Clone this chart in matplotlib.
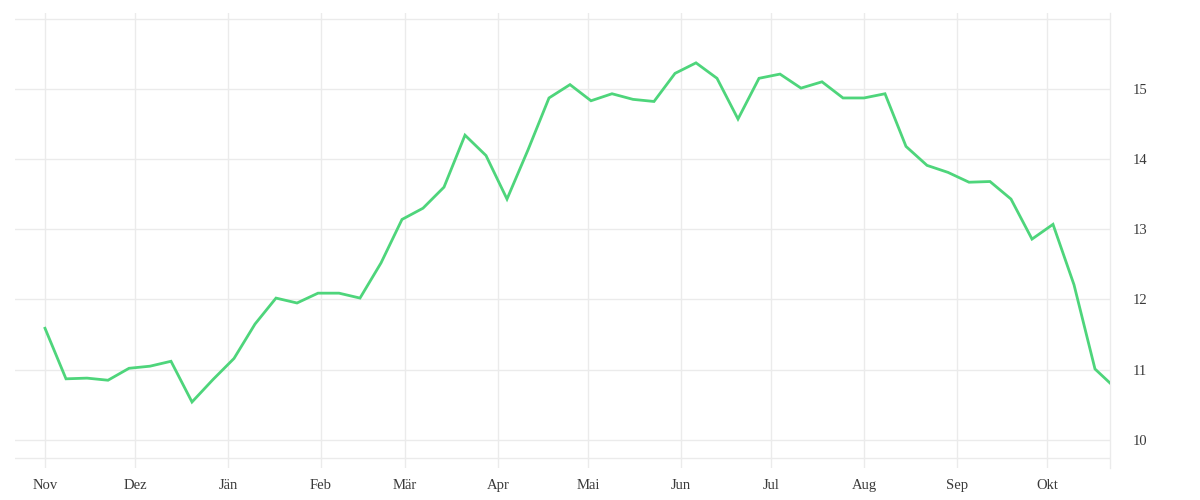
import numpy as np
import pandas as pd
import matplotlib
matplotlib.use("Agg")
import matplotlib.pyplot as plt
import matplotlib.dates as mdates

# weekly values, Nov 2021 - Okt 2022 (last point is a partial week)
dates = list(pd.date_range("2021-11-01", periods=51, freq="7D")) + [pd.Timestamp("2022-10-22")]
values = [11.59, 10.87, 10.88, 10.85, 11.02, 11.05, 11.12, 10.54, 10.86, 11.16,
          11.65, 12.02, 11.95, 12.09, 12.09, 12.02, 12.52, 13.14, 13.30, 13.60,
          14.34, 14.05, 13.43, 14.13, 14.87, 15.06, 14.83, 14.93, 14.85, 14.82,
          15.22, 15.37, 15.15, 14.57, 15.15, 15.21, 15.01, 15.10, 14.87, 14.87,
          14.93, 14.18, 13.91, 13.81, 13.67, 13.68, 13.43, 12.86, 13.07, 12.21,
          11.01, 10.81]
month_labels = ["Nov", "Dez", "Jän", "Feb", "Mär", "Apr", "Mai", "Jun", "Jul", "Aug", "Sep", "Okt"]
month_ticks = pd.date_range("2021-11-01", periods=12, freq="MS")
y_ticks = [10, 11, 12, 13, 14, 15, 16]

grid_col = "#ebebeb"
text_col = "#3a3a3a"

plt.rcParams["font.family"] = ["Liberation Serif", "DejaVu Serif"]

fig = plt.figure(figsize=(12, 5), dpi=100)
ax = fig.add_axes([0.0125, 0.064, 0.9125, 0.91])

ax.plot(dates, values, color="#4ed57b", lw=2.0, solid_joinstyle="miter", zorder=3)

ax.set_xlim(pd.Timestamp("2021-10-22"), pd.Timestamp("2022-10-22"))
ax.set_ylim(9.6, 16.08)

ax.set_xticks(month_ticks)
ax.set_xticklabels(month_labels, va="baseline")
ax.set_yticks(y_ticks)
ax.set_yticklabels([str(v) if v < 16 else "" for v in y_ticks])

ax.yaxis.tick_right()
ax.tick_params(axis="both", length=0, labelsize=10.5, colors=text_col)
ax.tick_params(axis="y", pad=16)
ax.tick_params(axis="x", pad=15)

ax.grid(True, color=grid_col, lw=1)
ax.axhline(9.74, color=grid_col, lw=1)
for s in ["top", "left", "bottom"]:
    ax.spines[s].set_visible(False)
ax.spines["right"].set_color(grid_col)
ax.spines["right"].set_linewidth(1)

fig.savefig("out.png", dpi=100)
